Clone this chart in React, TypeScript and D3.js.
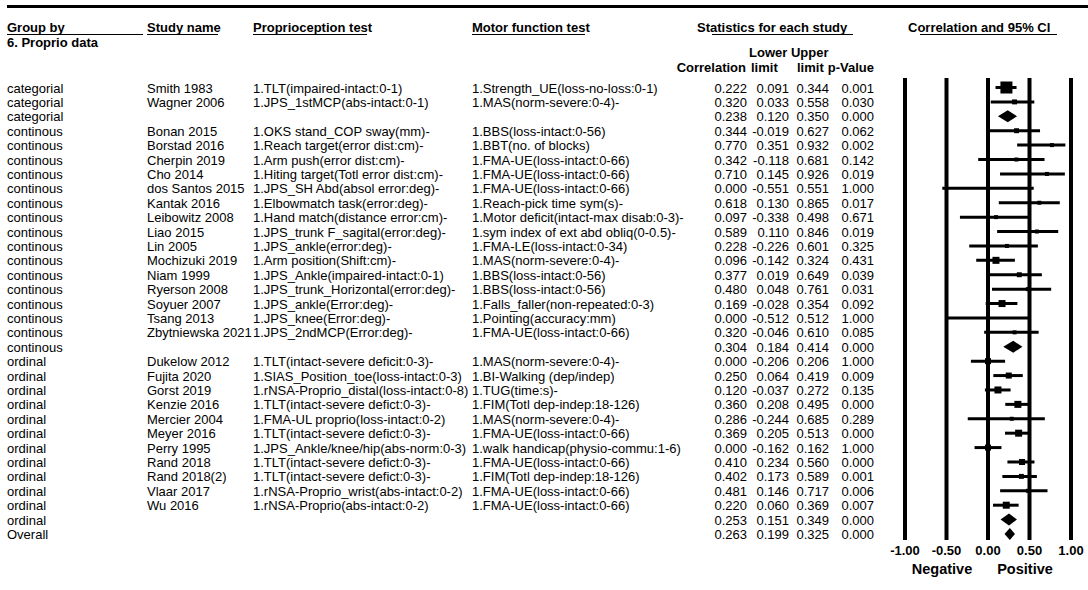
import React from 'react'
import * as d3 from 'd3'

const groups = [
  'categorial', 'categorial', 'categorial',
  'continous', 'continous', 'continous', 'continous', 'continous', 'continous', 'continous', 'continous',
  'continous', 'continous', 'continous', 'continous', 'continous', 'continous', 'continous', 'continous',
  'ordinal', 'ordinal', 'ordinal', 'ordinal', 'ordinal', 'ordinal', 'ordinal', 'ordinal', 'ordinal',
  'ordinal', 'ordinal', 'ordinal', 'Overall',
]

const studyNames = [
  'Smith 1983', 'Wagner 2006', '',
  'Bonan 2015', 'Borstad 2016', 'Cherpin 2019', 'Cho 2014', 'dos Santos 2015', 'Kantak 2016',
  'Leibowitz 2008', 'Liao 2015', 'Lin 2005', 'Mochizuki 2019', 'Niam 1999', 'Ryerson 2008',
  'Soyuer 2007', 'Tsang 2013', 'Zbytniewska 2021', '',
  'Dukelow 2012', 'Fujita 2020', 'Gorst 2019', 'Kenzie 2016', 'Mercier 2004', 'Meyer 2016',
  'Perry 1995', 'Rand 2018', 'Rand 2018(2)', 'Vlaar 2017', 'Wu 2016', '', '',
]

const proprioTests = [
  '1.TLT(impaired-intact:0-1)', '1.JPS_1stMCP(abs-intact:0-1)', '',
  '1.OKS stand_COP sway(mm)-', '1.Reach target(error dist:cm)-', '1.Arm push(error dist:cm)-',
  '1.Hiting target(Totl error dist:cm)-', '1.JPS_SH Abd(absol error:deg)-', '1.Elbowmatch task(error:deg)-',
  '1.Hand match(distance error:cm)-', '1.JPS_trunk F_sagital(error:deg)-', '1.JPS_ankle(error:deg)-',
  '1.Arm position(Shift:cm)-', '1.JPS_Ankle(impaired-intact:0-1)', '1.JPS_trunk_Horizontal(error:deg)-',
  '1.JPS_ankle(Error:deg)-', '1.JPS_knee(Error:deg)-', '1.JPS_2ndMCP(Error:deg)-', '',
  '1.TLT(intact-severe deficit:0-3)-', '1.SIAS_Position_toe(loss-intact:0-3)', '1.rNSA-Proprio_distal(loss-intact:0-8)',
  '1.TLT(intact-severe defict:0-3)-', '1.FMA-UL proprio(loss-intact:0-2)', '1.TLT(intact-severe defict:0-3)-',
  '1.JPS_Ankle/knee/hip(abs-norm:0-3)', '1.TLT(intact-severe defict:0-3)-', '1.TLT(intact-severe defict:0-3)-',
  '1.rNSA-Proprio_wrist(abs-intact:0-2)', '1.rNSA-Proprio(abs-intact:0-2)', '', '',
]

const motorTests = [
  '1.Strength_UE(loss-no-loss:0-1)', '1.MAS(norm-severe:0-4)-', '',
  '1.BBS(loss-intact:0-56)', '1.BBT(no. of blocks)', '1.FMA-UE(loss-intact:0-66)',
  '1.FMA-UE(loss-intact:0-66)', '1.FMA-UE(loss-intact:0-66)', '1.Reach-pick time sym(s)-',
  '1.Motor deficit(intact-max disab:0-3)-', '1.sym index of ext abd obliq(0-0.5)-', '1.FMA-LE(loss-intact:0-34)',
  '1.MAS(norm-severe:0-4)-', '1.BBS(loss-intact:0-56)', '1.BBS(loss-intact:0-56)',
  '1.Falls_faller(non-repeated:0-3)', '1.Pointing(accuracy:mm)', '1.FMA-UE(loss-intact:0-66)', '',
  '1.MAS(norm-severe:0-4)-', '1.BI-Walking (dep/indep)', '1.TUG(time:s)-',
  '1.FIM(Totl dep-indep:18-126)', '1.MAS(norm-severe:0-4)-', '1.FMA-UE(loss-intact:0-66)',
  '1.walk handicap(physio-commu:1-6)', '1.FMA-UE(loss-intact:0-66)', '1.FIM(Totl dep-indep:18-126)',
  '1.FMA-UE(loss-intact:0-66)', '1.FMA-UE(loss-intact:0-66)', '', '',
]

const correlations = [
  0.222, 0.320, 0.238,
  0.344, 0.770, 0.342, 0.710, 0.000, 0.618, 0.097, 0.589, 0.228, 0.096, 0.377, 0.480, 0.169, 0.000, 0.320, 0.304,
  0.000, 0.250, 0.120, 0.360, 0.286, 0.369, 0.000, 0.410, 0.402, 0.481, 0.220, 0.253, 0.263,
]
const lowerLimits = [
  0.091, 0.033, 0.120,
  -0.019, 0.351, -0.118, 0.145, -0.551, 0.130, -0.338, 0.110, -0.226, -0.142, 0.019, 0.048, -0.028, -0.512, -0.046, 0.184,
  -0.206, 0.064, -0.037, 0.208, -0.244, 0.205, -0.162, 0.234, 0.173, 0.146, 0.060, 0.151, 0.199,
]
const upperLimits = [
  0.344, 0.558, 0.350,
  0.627, 0.932, 0.681, 0.926, 0.551, 0.865, 0.498, 0.846, 0.601, 0.324, 0.649, 0.761, 0.354, 0.512, 0.610, 0.414,
  0.206, 0.419, 0.272, 0.495, 0.685, 0.513, 0.162, 0.560, 0.589, 0.717, 0.369, 0.349, 0.325,
]
const pValues = [
  0.001, 0.030, 0.000,
  0.062, 0.002, 0.142, 0.019, 1.000, 0.017, 0.671, 0.019, 0.325, 0.431, 0.039, 0.031, 0.092, 1.000, 0.085, 0.000,
  1.000, 0.009, 0.135, 0.000, 0.289, 0.000, 1.000, 0.000, 0.001, 0.006, 0.007, 0.000, 0.000,
]
// relative weight of each study (square size), 0 for summary rows
const weights = [
  100, 17, 0,
  17, 11, 11, 11, 11, 11, 11, 11, 11, 34, 17, 11, 34, 6, 11, 0,
  25, 25, 34, 34, 11, 34, 25, 25, 17, 11, 34, 0, 0,
]

const axisTicks = [-1, -0.5, 0, 0.5, 1]

const font = '"Liberation Sans", Arial, sans-serif'
const locale = d3.formatLocale({ decimal: '.', thousands: ',', grouping: [3], currency: ['', ''], minus: '-' })
const fmt = locale.format('.3f')
const fmtTick = locale.format('.2f')

function App() {
  const width = 1088
  const height = 590
  const n = groups.length

  const x = d3.scaleLinear().domain([-1, 1]).range([905, 1071])
  const yBase = d3.scaleLinear().domain([0, n - 1]).range([92.5, 539])
  const size = d3.scaleSqrt().domain([0, 100]).range([0, 12])

  const numCols = [
    { right: 747, values: correlations },
    { right: 789, values: lowerLimits },
    { right: 829, values: upperLimits },
    { right: 874, values: pValues },
  ]

  return (
    <svg width={width} height={height} style={{ position: 'absolute', left: 0, top: 0, background: '#fff' }} fontFamily={font}>
      <line x1={7} x2={1088} y1={6.5} y2={6.5} stroke="#000" strokeWidth={3} />

      <g fontWeight="bold" fontSize={13}>
        <text x={7} y={32}>Group by</text>
        <text x={7} y={47}>6. Proprio data</text>
        <text x={147} y={32}>Study name</text>
        <text x={253} y={32}>Proprioception test</text>
        <text x={472} y={32}>Motor function test</text>
        <text x={697} y={32}>Statistics for each study</text>
        <text x={908} y={32}>Correlation and 95% CI</text>
        <text x={749} y={56.5}>Lower Upper</text>
        <text x={746} y={71.5} textAnchor="end">Correlation</text>
        <text x={751} y={71.5}>limit</text>
        <text x={797} y={71.5}>limit</text>
        <text x={874} y={71.5} textAnchor="end">p-Value</text>
      </g>
      <g stroke="#000" strokeWidth={1}>
        <line x1={7} x2={143} y1={34.5} y2={34.5} />
        <line x1={147} x2={218} y1={34.5} y2={34.5} />
        <line x1={253} x2={367} y1={34.5} y2={34.5} />
        <line x1={472} x2={585} y1={34.5} y2={34.5} />
        <line x1={712} x2={853} y1={34.5} y2={34.5} />
        <line x1={920} x2={1057} y1={34.5} y2={34.5} />
      </g>

      <g fontSize={13}>
        {groups.map((g, i) => (
          <g key={i}>
            <text x={7} y={yBase(i)}>{g}</text>
            <text x={147} y={yBase(i)}>{studyNames[i]}</text>
            <text x={253} y={yBase(i)}>{proprioTests[i]}</text>
            <text x={472} y={yBase(i)}>{motorTests[i]}</text>
            {numCols.map((c, j) => (
              <text key={j} x={c.right} y={yBase(i)} textAnchor="end">{fmt(c.values[i])}</text>
            ))}
          </g>
        ))}
      </g>

      <g stroke="#000" strokeWidth={4}>
        {axisTicks.map(t => (
          <line key={t} x1={x(t)} x2={x(t)} y1={78} y2={540} />
        ))}
      </g>

      <g>
        {correlations.map((c, i) => {
          const yc = yBase(i) - 5
          if (studyNames[i] === '') {
            const d = `M${x(lowerLimits[i])},${yc} L${x(c)},${yc - 6} L${x(upperLimits[i])},${yc} L${x(c)},${yc + 6} Z`
            return <path key={i} d={d} fill="#000" />
          }
          const s = size(weights[i])
          return (
            <g key={i}>
              <line x1={x(lowerLimits[i])} x2={x(upperLimits[i])} y1={yc} y2={yc} stroke="#000" strokeWidth={3} />
              <rect x={x(c) - s / 2} y={yc - s / 2} width={s} height={s} fill="#000" />
            </g>
          )
        })}
      </g>

      <g fontWeight="bold" fontSize={13} textAnchor="middle">
        {axisTicks.map(t => (
          <text key={t} x={x(t)} y={555}>{fmtTick(t)}</text>
        ))}
      </g>
      <g fontWeight="bold" fontSize={14.5} textAnchor="middle">
        <text x={942} y={574}>Negative</text>
        <text x={1025} y={574}>Positive</text>
      </g>
    </svg>
  )
}

export default App
